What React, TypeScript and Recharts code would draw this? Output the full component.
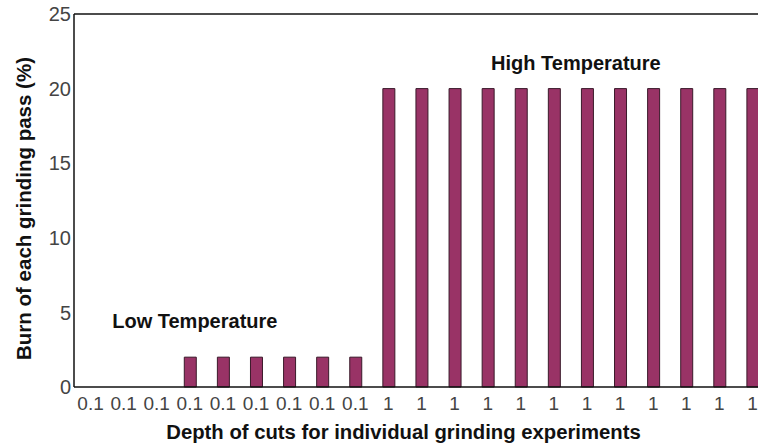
import { BarChart, Bar, XAxis, YAxis, ReferenceLine, ReferenceDot } from "recharts"

const depths = ["0.1", "0.1", "0.1", "0.1", "0.1", "0.1", "0.1", "0.1", "0.1", "1", "1", "1", "1", "1", "1", "1", "1", "1", "1", "1", "1"]
const burn = [0, 0, 0, 2, 2, 2, 2, 2, 2, 20, 20, 20, 20, 20, 20, 20, 20, 20, 20, 20, 20]
const yTicks = [0, 5, 10, 15, 20, 25]

const data = depths.map((d, i) => ({ i, depth: d, burn: burn[i] }))

const font = "'Liberation Sans', Arial, sans-serif"

// annotation text centred on a reference dot
function Note({ viewBox, text, dx }: any) {
  const vb = viewBox || {}
  const cx = vb.cx != null ? vb.cx : vb.x + (vb.width || 0) / 2
  const cy = vb.cy != null ? vb.cy : vb.y + (vb.height || 0) / 2
  return (
    <text x={cx + dx} y={cy} textAnchor="middle" dominantBaseline="central"
      fontFamily={font} fontSize={20} fontWeight="bold" fill="#111">
      {text}
    </text>
  )
}

function YTitle({ viewBox }: any) {
  const vb = viewBox || {}
  const x = 23
  const y = vb.y + vb.height / 2 + 8
  return (
    <text x={x} y={y} transform={`rotate(-90, ${x}, ${y})`} textAnchor="middle" dominantBaseline="central"
      fontFamily={font} fontSize={20.5} fontWeight="bold" fill="#111">
      Burn of each grinding pass (%)
    </text>
  )
}

export default function App() {
  return (
    <div style={{ position: "fixed", left: 0, top: 0, width: 758, height: 446, overflow: "hidden", background: "#fff" }}>
      <BarChart width={770} height={446} data={data} margin={{ top: 14, right: 1, bottom: 29, left: 0 }}>
        <XAxis
          dataKey="i"
          tickFormatter={(v) => depths[v]}
          interval={0}
          tickLine={false}
          tickSize={0}
          tickMargin={10}
          height={30}
          axisLine={{ stroke: "#111", strokeWidth: 1.5 }}
          tick={{ fontFamily: font, fontSize: 19, fill: "#444" }}
          label={{ value: "Depth of cuts for individual grinding experiments", position: "insideBottom", offset: -22, dx: -18, fontFamily: font, fontSize: 20.3, fontWeight: "bold", fill: "#111" }}
        />
        <YAxis
          domain={[0, 25]}
          ticks={yTicks}
          width={74}
          tickLine={false}
          tickSize={0}
          tickMargin={3}
          axisLine={{ stroke: "#111", strokeWidth: 1.5 }}
          tick={{ fontFamily: font, fontSize: 20, fill: "#444" }}
          label={{ content: <YTitle /> }}
        />
        <ReferenceLine y={25} stroke="#111" strokeWidth={1.5} />
        <Bar dataKey="burn" fill="#993366" stroke="#3a1a2a" strokeWidth={1} barSize={12} isAnimationActive={false} />
        <ReferenceDot x={14} y={21.7} r={0} label={<Note text="High Temperature" dx={22} />} />
        <ReferenceDot x={3} y={4.4} r={0} label={<Note text="Low Temperature" dx={5} />} />
      </BarChart>
    </div>
  )
}
